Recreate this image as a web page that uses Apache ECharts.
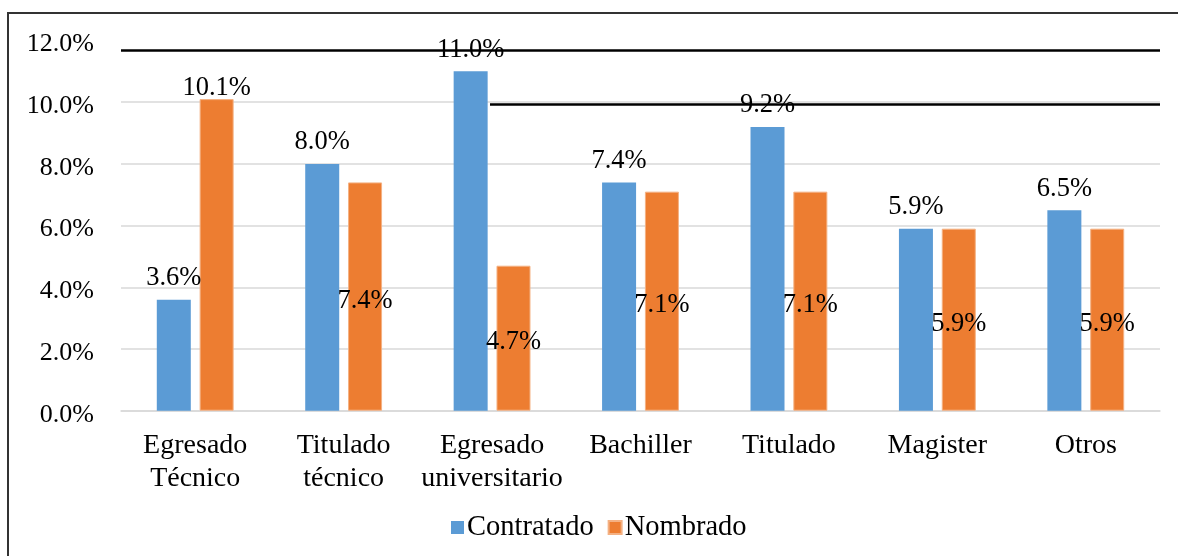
<!DOCTYPE html>
<html>
<head>
<meta charset="utf-8">
<script src="https://cdn.jsdelivr.net/npm/echarts@6/dist/echarts.min.js"></script>
<style>
  html, body { margin: 0; padding: 0; background: #fff; }
  #chart { width: 1178px; height: 556px; }
</style>
</head>
<body>
<div id="chart"></div>
<script>
const categories = ['Egresado\nTécnico', 'Titulado\ntécnico', 'Egresado\nuniversitario', 'Bachiller', 'Titulado', 'Magister', 'Otros']
const contratado = [3.6, 8.0, 11.0, 7.4, 9.2, 5.9, 6.5]
const nombrado = [10.1, 7.4, 4.7, 7.1, 7.1, 5.9, 5.9]
const yTicks = [0, 2, 4, 6, 8, 10, 12]

const serif = 'Liberation Serif'
const chart = echarts.init(document.getElementById('chart'))

// first Nombrado label sits above the bar, the rest in the middle
const nombradoData = nombrado.map((v, i) => i === 0
  ? { value: v, label: { position: 'top', distance: -2, offset: [0, 0] } }
  : v)

const option = {
  backgroundColor: '#fff',
  animation: false,
  graphic: [{
    type: 'rect',
    shape: { x: 8, y: 13, width: 1200, height: 600 },
    style: { fill: 'none', stroke: '#333', lineWidth: 2 },
    silent: true
  }],
  grid: { left: 121, right: 18, top: 40.5, bottom: 145.3, outerBoundsMode: 'none' },
  legend: {
    left: 446,
    top: 508,
    itemWidth: 13,
    itemHeight: 13,
    itemGap: 14,
    icon: 'rect',
    textStyle: { fontFamily: serif, fontSize: 28.5, color: '#000', padding: [0, 0, 0, -2] },
    data: ['Contratado', 'Nombrado']
  },
  xAxis: {
    type: 'category',
    data: categories,
    axisTick: { show: false },
    axisLine: { lineStyle: { color: '#d9d9d9', width: 1.5 } },
    axisLabel: { fontFamily: serif, fontSize: 28, color: '#000', margin: 18, lineHeight: 33, interval: 0 }
  },
  yAxis: {
    type: 'value',
    min: yTicks[0],
    max: yTicks[yTicks.length - 1],
    interval: 2,
    axisLine: { show: false },
    axisTick: { show: false },
    axisLabel: { fontFamily: serif, fontSize: 26, color: '#000', margin: 27, verticalAlign: 'top', lineHeight: 8, formatter: v => v.toFixed(1) + '%' },
    splitLine: { lineStyle: { color: ['#d9d9d9', '#d9d9d9', '#d9d9d9', '#d9d9d9', '#d9d9d9', '#d9d9d9', 'rgba(0,0,0,0)'], width: 1.5 } }
  },
  series: [
    {
      name: 'Contratado',
      type: 'bar',
      data: contratado,
      barWidth: 34,
      barGap: '26%',
      itemStyle: { color: '#5B9BD5' },
      label: { show: true, position: 'top', distance: 8, fontFamily: serif, fontSize: 26.5, color: '#000', formatter: p => p.value.toFixed(1) + '%' },
      markLine: {
        silent: true,
        symbol: 'none',
        label: { show: false },
        lineStyle: { color: '#000', width: 2.7, type: 'solid' },
        data: [
          { yAxis: 11.7 },
          [{ coord: [2, 9.93], x: 490 }, { coord: [6, 9.93], x: 1160 }]
        ]
      }
    },
    {
      name: 'Nombrado',
      type: 'bar',
      data: nombradoData,
      barWidth: 34,
      itemStyle: { color: '#ED7D31', borderColor: '#F4B183', borderWidth: 1 },
      label: { show: true, position: 'inside', offset: [0, 4], fontFamily: serif, fontSize: 26.5, color: '#000', formatter: p => p.value.toFixed(1) + '%' }
    }
  ]
}

chart.setOption(option)
</script>
</body>
</html>
